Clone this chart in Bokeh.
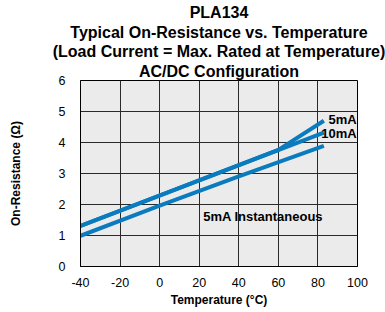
from bokeh.plotting import figure
from bokeh.models import Range1d, Label, FixedTicker, Title
from bokeh.embed import file_html
from bokeh.resources import INLINE

# Data
temp_5ma = [-40, 60, 83]
res_5ma = [1.31, 3.76, 4.70]
temp_10ma = [-40, 83]
res_10ma = [1.31, 4.32]
temp_inst = [-40, 0, 40, 83]
res_inst = [0.99, 1.96, 2.91, 3.89]

x_ticks = [-40, -20, 0, 20, 40, 60, 80, 100]
y_ticks = [0, 1, 2, 3, 4, 5, 6]

title_lines = [
    "PLA134",
    "Typical On-Resistance vs. Temperature",
    "(Load Current = Max. Rated at Temperature)",
    "AC/DC Configuration",
]
title_standoffs = [2, 0, 0, 2]

FONT = "Liberation Sans"
BLUE = "#0a7bbf"

p = figure(width=385, height=310, output_backend="svg", toolbar_location=None,
           x_range=Range1d(-40, 100), y_range=Range1d(0, 6),
           min_border_left=80, min_border_right=28, min_border_top=0,
           min_border_bottom=44, title=None)

# stacked centred title lines; the last one added sits on top
for line, so in reversed(list(zip(title_lines, title_standoffs))):
    p.add_layout(Title(text=line, align="center", text_font=FONT,
                       text_font_size="16px", text_font_style="bold",
                       text_color="black", offset=0, standoff=so), "above")

p.background_fill_color = "#ebebeb"
p.border_fill_color = "white"
p.outline_line_color = "black"
p.outline_line_width = 1

for ax in (p.xaxis[0], p.yaxis[0]):
    ax.major_tick_line_color = None
    ax.minor_tick_line_color = None
    ax.axis_line_color = "black"
    ax.major_label_text_font = FONT
    ax.major_label_text_font_size = "12.5px"
    ax.major_label_text_color = "black"
    ax.axis_label_text_font = FONT
    ax.axis_label_text_font_size = "12px"
    ax.axis_label_text_font_style = "bold"
    ax.axis_label_text_color = "black"

p.xaxis.ticker = FixedTicker(ticks=x_ticks)
p.yaxis.ticker = FixedTicker(ticks=y_ticks)
p.xaxis.major_label_overrides = {t: str(t) for t in x_ticks}
p.yaxis.major_label_overrides = {t: str(t) for t in y_ticks}
p.xaxis.axis_label = "Temperature (°C)"
p.yaxis.axis_label = "On-Resistance (Ω)"
p.xaxis.major_label_standoff = 5
p.yaxis.major_label_standoff = 9
p.xaxis.axis_label_standoff = 3
p.yaxis.axis_label_standoff = 33

p.xgrid.ticker = FixedTicker(ticks=x_ticks)
p.ygrid.ticker = FixedTicker(ticks=y_ticks)
p.grid.grid_line_color = "#2a2a2a"
p.grid.grid_line_width = 1

p.line(temp_inst, res_inst, line_color=BLUE, line_width=4)
p.line(temp_10ma, res_10ma, line_color=BLUE, line_width=4)
p.line(temp_5ma, res_5ma, line_color=BLUE, line_width=4)

lab_kw = dict(text_font=FONT, text_font_size="13px", text_font_style="bold",
              text_color="black")
p.add_layout(Label(x=99.6, y=4.74, text="5mA", text_align="right",
                   text_baseline="middle", **lab_kw))
p.add_layout(Label(x=99.6, y=4.3, text="10mA", text_align="right",
                   text_baseline="middle", **lab_kw))
p.add_layout(Label(x=22, y=1.61, text="5mA Instantaneous", text_align="left",
                   text_baseline="middle", **lab_kw))

open("out.html", "w").write(file_html(p, INLINE))
